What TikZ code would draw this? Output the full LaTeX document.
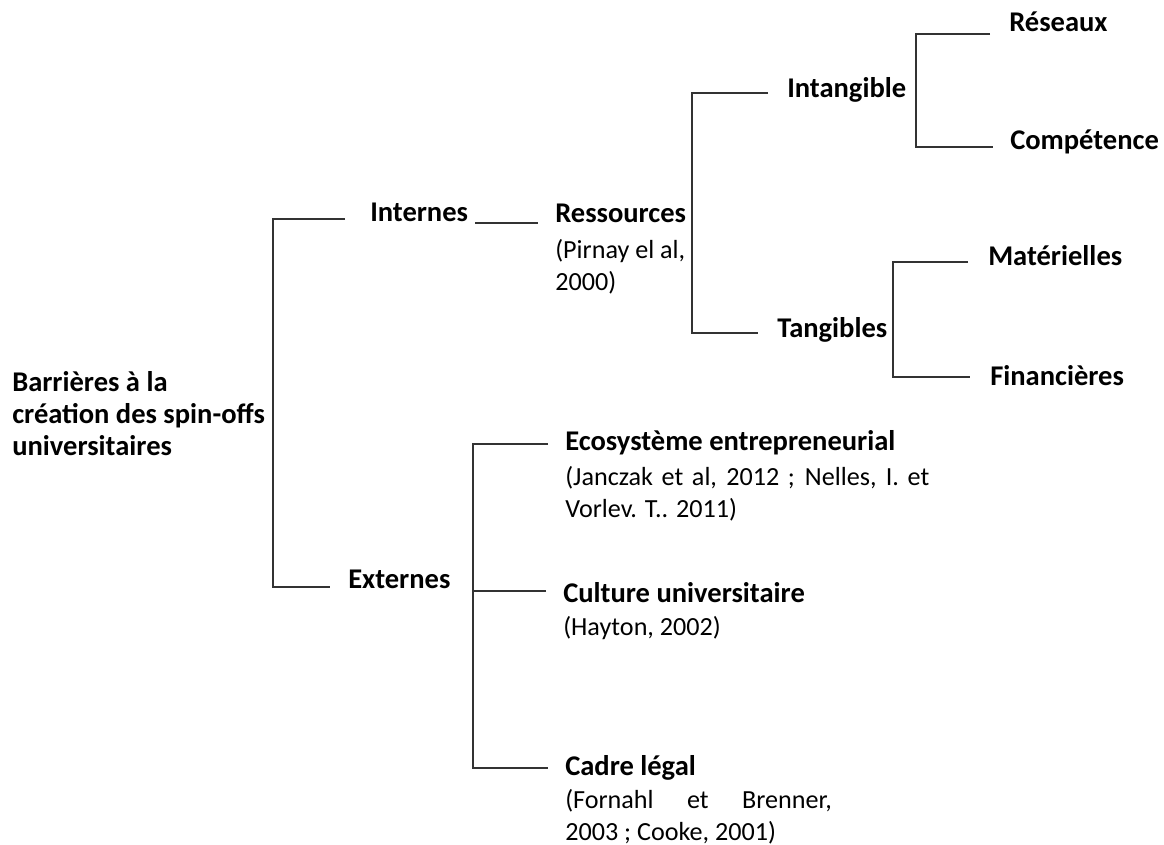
\documentclass[tikz,border=0pt]{standalone}
\usepackage{fontspec}
\setmainfont{Carlito}
\usepackage{tikz}

\begin{document}
\begin{tikzpicture}[x=0.75pt, y=-0.75pt,
  title/.style={inner sep=0pt, anchor=base west, align=left, font=\bfseries\fontsize{21.4}{24}\selectfont},
  cite/.style={inner sep=0pt, anchor=base west, align=left, font=\fontsize{19.6}{23.5}\selectfont},
  branch/.style={line width=1.5pt, black!80}]

  \useasboundingbox (0,0) rectangle (1164,845);

  % Define the root and the two main groups (base = last line)
  \node (root) [title] at (12,455) {Barrières à la\\création des spin-offs\\universitaires};
  \node (internes) [title] at (370,222) {Internes};
  \node (externes) [title] at (348,588) {Externes};

  % Internal barriers: resources
  \node (ressources) [title] at (555,223) {Ressources};
  \node (ressCite) [cite] at ([shift={(0,67)}]ressources.base west) {(Pirnay el al,\\2000)};
  \node (intang) [title] at (787,98) {Intangible};
  \node (tang) [title] at (777,337) {Tangibles};
  \node (reseaux) [title] at (1009,32) {Réseaux};
  \node (competence) [title] at (1010,150) {Compétence};
  \node (materielles) [title] at (988,266) {Matérielles};
  \node (financieres) [title] at (990,385) {Financières};

  % External barriers
  \node (eco) [title] at (565,450) {Ecosystème entrepreneurial};
  \node (ecoCite) [cite] at ([shift={(0,67)}]eco.base west) {\makebox[273pt][s]{(Janczak et al, 2012 ; Nelles, I. et}\\Vorlev. T.. 2011)};
  \node (culture) [title] at (563,602) {Culture universitaire};
  \node (cultureCite) [cite] at ([shift={(0,33)}]culture.base west) {(Hayton, 2002)};
  \node (cadre) [title] at (565,775) {Cadre légal};
  \node (cadreCite) [cite] at ([shift={(0,65)}]cadre.base west) {\makebox[200pt][s]{(Fornahl et Brenner,}\\2003 ; Cooke, 2001)};

  % Brackets joining each level to the next
  \draw[branch] ([shift={(-25,-3)}]internes.base west) -- ++(-72,0) |- ([shift={(-18,-1)}]externes.base west);
  \draw[branch] ([shift={(7,1)}]internes.base east) -- ([shift={(-17,0)}]ressources.base west);
  \draw[branch] ([shift={(-19,-5)}]intang.base west) -- ++(-76,0) |- ([shift={(-19,-4)}]tang.base west);
  \draw[branch] ([shift={(-19,2)}]reseaux.base west) -- ++(-74,0) |- ([shift={(-17,-3)}]competence.base west);
  \draw[branch] ([shift={(-20,-4)}]materielles.base west) -- ++(-75,0) |- ([shift={(-20,-8)}]financieres.base west);
  \draw[branch] ([shift={(-17,-6)}]eco.base west) -- ++(-75,0) |- ([shift={(-17,-7)}]cadre.base west);
  \draw[branch] ([shift={(-17,-11)}]culture.base west) -- ++(-73,0);

\end{tikzpicture}
\end{document}
